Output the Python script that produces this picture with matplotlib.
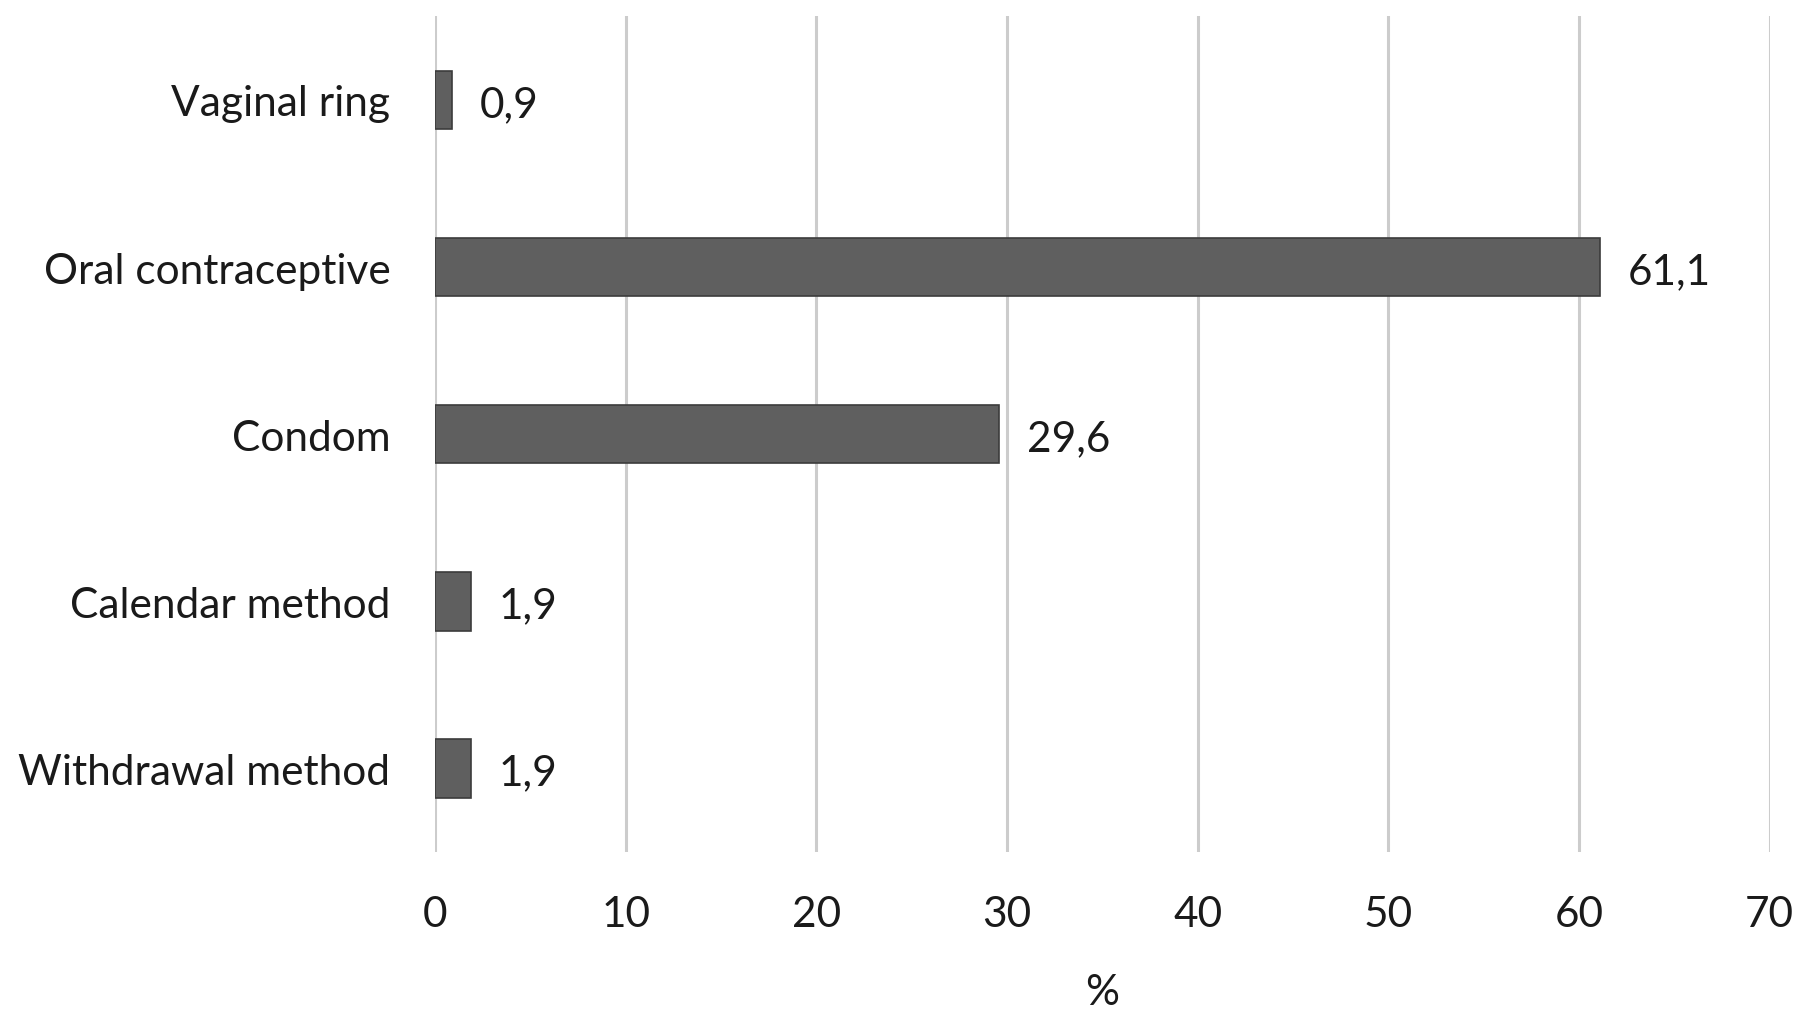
import matplotlib
matplotlib.use("Agg")
import matplotlib.pyplot as plt

# data
methods = ["Withdrawal method", "Calendar method", "Condom", "Oral contraceptive", "Vaginal ring"]
percent = [1.9, 1.9, 29.6, 61.1, 0.9]
value_labels = ["1,9", "1,9", "29,6", "61,1", "0,9"]
xticks = [0, 10, 20, 30, 40, 50, 60, 70]

plt.rcParams['font.family'] = ['Lato', 'DejaVu Sans']
fs = 30.5

fig = plt.figure(figsize=(18.1, 10.2), dpi=100)
ax = fig.add_axes([0.2403, 0.1637, 0.7374, 0.8193])

ypos = list(range(len(methods)))
ax.barh(ypos, percent, height=0.35, color='#5f5f5f', edgecolor='#3c3c3c', linewidth=1.2, zorder=3)

# value labels to the right of the bars
for y, v, lab in zip(ypos, percent, value_labels):
    ax.annotate(lab, xy=(v, y), xytext=(20, -3), textcoords='offset points',
                ha='left', va='center', fontsize=fs, color='#1a1a1a')

ax.set_xlim(0, 70)
ax.set_ylim(-0.5, len(methods) - 0.5)
ax.set_xticks(xticks)
ax.set_xticklabels([str(t) for t in xticks])
ax.set_yticks(ypos)
ax.set_yticklabels(methods)

ax.grid(axis='x', color='#cccccc', linewidth=2.2, zorder=0)
ax.grid(axis='y', visible=False)
for s in ax.spines.values():
    s.set_visible(False)

ax.tick_params(axis='both', length=0, labelsize=fs, colors='#1a1a1a')
ax.tick_params(axis='x', pad=31)
ax.tick_params(axis='y', pad=32)

ax.set_xlabel('%', fontsize=fs, color='#1a1a1a', labelpad=29)

fig.savefig('out.png', dpi=100, facecolor='white')
